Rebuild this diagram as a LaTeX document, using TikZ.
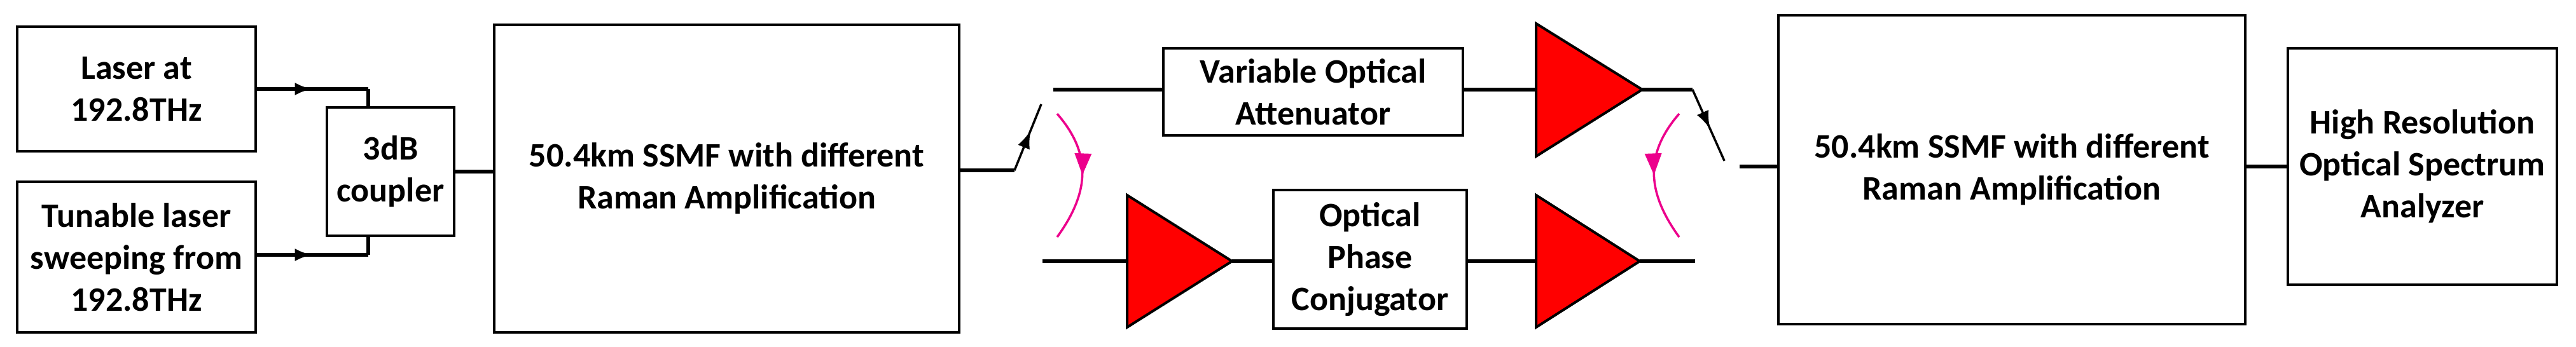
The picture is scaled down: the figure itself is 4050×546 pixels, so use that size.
\documentclass[tikz,border=0pt]{standalone}
\usepackage{fontspec}
\setmainfont{Carlito}
\usetikzlibrary{arrows.meta,decorations.markings}
\begin{document}
\begin{tikzpicture}[x=1pt,y=-1pt,
  box/.style={draw,line width=4pt,inner sep=0pt,align=center,font=\bfseries\fontsize{54}{66}\selectfont},
  wire/.style={line width=6pt},
  sw/.style={line width=3.5pt},
  amp/.style={draw,line width=4pt,fill=red,line join=miter},
  midarrow/.style={postaction={decorate},decoration={markings,mark=at position #1 with {\arrow{Latex[length=28pt,width=20pt]}}}},
  swing/.style={magenta,line width=3.5pt,postaction={decorate},decoration={markings,mark=at position 0.5 with {\arrow{Triangle[length=34pt,width=26pt]}}}}]
\useasboundingbox (0,0) rectangle (4050,546);
\node[box,minimum width=375,minimum height=196] (laser) at (214.5,140) {Laser at\\192.8THz};
\node[box,minimum width=375,minimum height=237] (tun) at (214.5,404.5) {Tunable laser\\sweeping from\\192.8THz};
\node[box,minimum width=200,minimum height=202] (coup) at (614,270) {3dB\\coupler};
\node[box,minimum width=731,minimum height=484] (ssmfa) at (1142.5,281) {50.4km SSMF with different\\Raman Amplification};
\node[box,minimum width=471,minimum height=137] (voa) at (2064.5,144.5) {Variable Optical\\Attenuator};
\node[box,minimum width=304,minimum height=218] (opc) at (2154,408) {Optical\\Phase\\Conjugator};
\node[box,minimum width=734,minimum height=486] (ssmfb) at (3163,267) {50.4km SSMF with different\\Raman Amplification};
\node[box,minimum width=423,minimum height=372] (osa) at (3808.5,262) {High Resolution\\Optical Spectrum\\Analyzer};
% amplifiers
\draw[amp] (2415,37) -- (2582,141) -- (2415,246) -- cycle;
\draw[amp] (1772,307) -- (1937,411) -- (1772,515) -- cycle;
\draw[amp] (2415,307) -- (2578,411) -- (2415,515) -- cycle;
\coordinate (a1in) at (2415,141); \coordinate (a1out) at (2582,141);
\coordinate (a2in) at (1772,411); \coordinate (a2out) at (1937,411);
\coordinate (a3in) at (2415,411); \coordinate (a3out) at (2578,411);
% couplers inputs
\draw[wire,midarrow=0.5] (laser.east) -- (579,140);
\draw[wire] (579,140) -- (579,169);
\draw[wire,midarrow=0.5] (tun.east |- 0,401) -- (579,401);
\draw[wire] (579,401) -- (579,371);
\draw[wire] (coup.east) -- (ssmfa.west |- coup.east);
% switch 1
\coordinate (s1a) at (1595,268); \coordinate (s1b) at (1637,164);
\coordinate (u0) at (1656,141); \coordinate (l0) at (1639,411);
\draw[wire] (ssmfa.east |- s1a) -- (s1a);
\draw[sw,midarrow=0.6] (s1a) -- (s1b);
\draw[wire] (u0) -- (voa.west |- u0);
\draw[wire] (voa.east |- a1in) -- (a1in);
\draw[wire] (l0) -- (a2in);
\draw[wire] (a2out) -- (opc.west |- a2out);
\draw[wire] (opc.east |- a3in) -- (a3in);
% switch 2
\coordinate (s2a) at (2661,141); \coordinate (s2b) at (2711,253);
\coordinate (l1) at (2665,411); \coordinate (r0) at (2735,262);
\draw[wire] (a1out) -- (s2a);
\draw[sw,midarrow=0.55] (s2a) -- (s2b);
\draw[wire] (a3out) -- (l1);
\draw[wire] (r0) -- (ssmfb.west |- r0);
\draw[wire] (ssmfb.east |- osa.west) -- (osa.west);
% swing arcs
\draw[swing] (1662,179) .. controls (1715,240) and (1715,300) .. (1662,373);
\draw[swing] (2640,179) .. controls (2587,240) and (2587,300) .. (2640,373);
\end{tikzpicture}
\end{document}
